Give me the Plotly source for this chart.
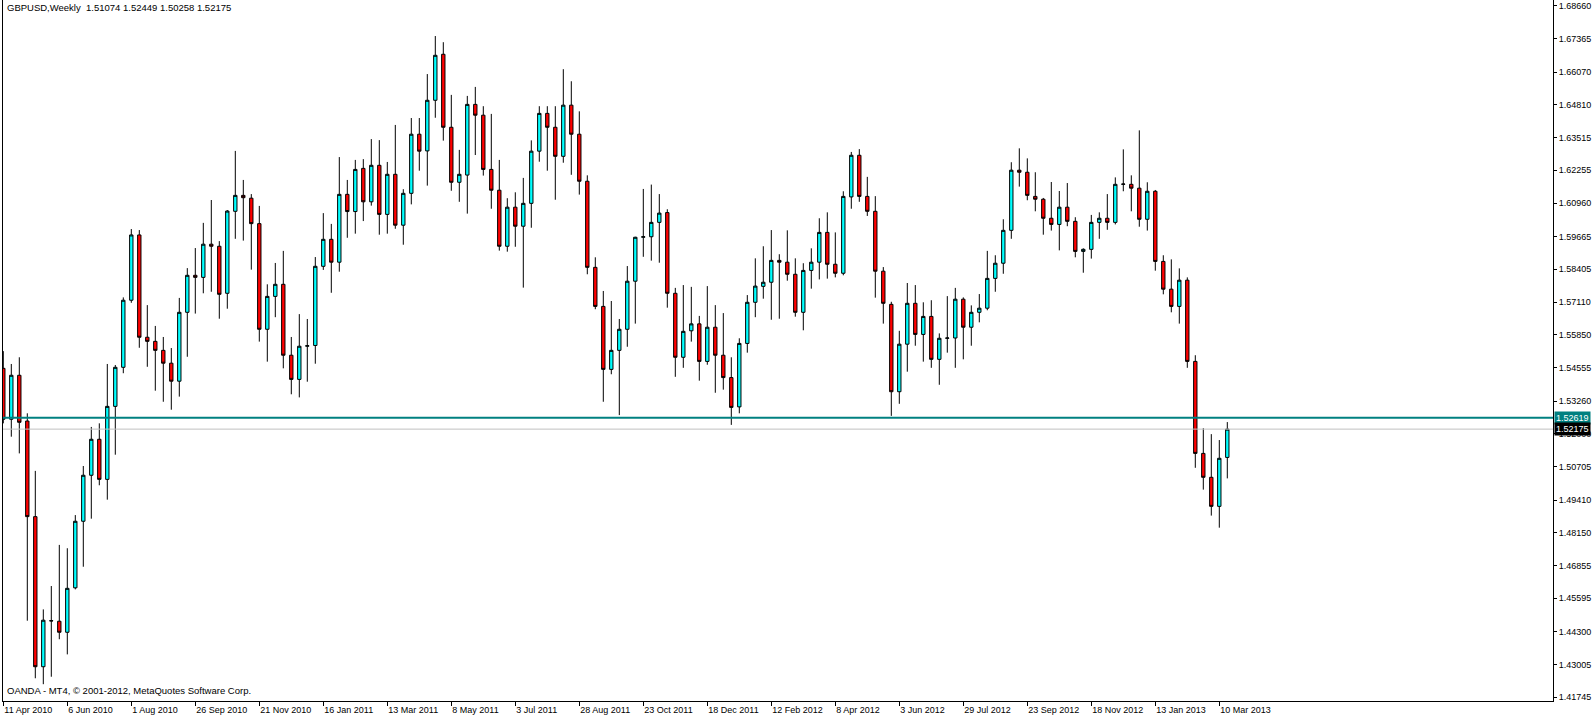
import pandas as pd
import plotly.graph_objects as go

symbol_title = "GBPUSD,Weekly  1.51074 1.52449 1.50258 1.52175"
footer_text = "OANDA - MT4, \u00a9 2001-2012, MetaQuotes Software Corp."
first_week = "2010-04-11"

open_ = [1.5454, 1.5256, 1.5427, 1.5249, 1.4877, 1.4293, 1.4471, 1.4470, 1.4427, 1.4600,
         1.4859, 1.5038, 1.5178, 1.5022, 1.5306, 1.5458, 1.5719, 1.5973, 1.5575, 1.5559,
         1.5524, 1.5474, 1.5404, 1.5672, 1.5816, 1.5808, 1.5937, 1.5929, 1.5746, 1.6065,
         1.6127, 1.6116, 1.6017, 1.5606, 1.5734, 1.5781, 1.5505, 1.5411, 1.5540, 1.5543,
         1.5851, 1.5956, 1.5867, 1.6131, 1.6064, 1.6232, 1.6102, 1.6244, 1.6053, 1.6209,
         1.6011, 1.6135, 1.6365, 1.6300, 1.6497, 1.6676, 1.6392, 1.6178, 1.6206, 1.6481,
         1.6439, 1.6228, 1.6147, 1.5929, 1.6081, 1.6007, 1.6096, 1.6299, 1.6446, 1.6392,
         1.6279, 1.6478, 1.6365, 1.6182, 1.5847, 1.5695, 1.5450, 1.5524, 1.5606, 1.5793,
         1.5964, 1.5966, 1.6022, 1.6060, 1.5746, 1.5497, 1.5600, 1.5627, 1.5481, 1.5614,
         1.5505, 1.5418, 1.5304, 1.5551, 1.5711, 1.5773, 1.5789, 1.5874, 1.5867, 1.5820,
         1.5672, 1.5835, 1.5867, 1.5983, 1.5859, 1.5824, 1.6121, 1.6283, 1.6123, 1.6065,
         1.5832, 1.5703, 1.5363, 1.5548, 1.5707, 1.5586, 1.5656, 1.5489, 1.5571, 1.5572,
         1.5723, 1.5614, 1.5672, 1.5688, 1.5804, 1.5863, 1.5991, 1.6225, 1.6217, 1.6123,
         1.6112, 1.6038, 1.6014, 1.6081, 1.6026, 1.5909, 1.5917, 1.6022, 1.6038, 1.6022,
         1.6170, 1.6170, 1.6155, 1.6034, 1.6143, 1.5870, 1.5762, 1.5695, 1.5797, 1.5481,
         1.5123, 1.5030, 1.4917, 1.51074]
high = [1.5521, 1.5471, 1.5497, 1.5279, 1.5055, 1.4516, 1.4607, 1.4767, 1.4754, 1.4883,
        1.5074, 1.5226, 1.5240, 1.5471, 1.5467, 1.5730, 1.5996, 1.5992, 1.5700, 1.5619,
        1.5576, 1.5533, 1.5728, 1.5844, 1.5922, 1.6020, 1.6109, 1.5949, 1.6070, 1.6300,
        1.6187, 1.6132, 1.6086, 1.5781, 1.5864, 1.5911, 1.5576, 1.5665, 1.5646, 1.5887,
        1.6058, 1.6016, 1.6276, 1.6187, 1.6265, 1.6268, 1.6346, 1.6342, 1.6257, 1.6401,
        1.6151, 1.6428, 1.6428, 1.6599, 1.6747, 1.6723, 1.6518, 1.6304, 1.6514, 1.6549,
        1.6474, 1.6444, 1.6265, 1.6116, 1.6139, 1.6195, 1.6341, 1.6474, 1.6474, 1.6474,
        1.6618, 1.6571, 1.6454, 1.6205, 1.5886, 1.5755, 1.5716, 1.5646, 1.5852, 1.5966,
        1.6152, 1.6169, 1.6132, 1.6073, 1.5767, 1.5778, 1.5771, 1.5658, 1.5774, 1.5700,
        1.5669, 1.5497, 1.5571, 1.5739, 1.5882, 1.5929, 1.5992, 1.5898, 1.5991, 1.5882,
        1.5863, 1.5921, 1.6038, 1.6061, 1.5983, 1.6143, 1.6296, 1.6307, 1.6199, 1.6124,
        1.5848, 1.5713, 1.5600, 1.5786, 1.5778, 1.5711, 1.5719, 1.5590, 1.5735, 1.5767,
        1.5730, 1.5699, 1.5743, 1.5911, 1.5894, 1.6034, 1.6256, 1.6310, 1.6271, 1.6217,
        1.6117, 1.6179, 1.6144, 1.6175, 1.6042, 1.5921, 1.6051, 1.6061, 1.6132, 1.6197,
        1.6306, 1.6205, 1.6380, 1.6178, 1.6148, 1.5894, 1.5878, 1.5843, 1.5808, 1.5505,
        1.5221, 1.5198, 1.5175, 1.52449]
low = [1.5240, 1.5188, 1.5123, 1.4472, 1.4248, 1.4225, 1.4254, 1.4400, 1.4341, 1.4594,
       1.4682, 1.4869, 1.4999, 1.4943, 1.5118, 1.5435, 1.5709, 1.5534, 1.5460, 1.5367,
       1.5324, 1.5293, 1.5344, 1.5499, 1.5667, 1.5746, 1.5752, 1.5647, 1.5686, 1.5958,
       1.5951, 1.5838, 1.5558, 1.5480, 1.5653, 1.5454, 1.5353, 1.5341, 1.5402, 1.5472,
       1.5837, 1.5748, 1.5830, 1.5962, 1.5978, 1.6027, 1.6087, 1.5974, 1.5978, 1.5997,
       1.5935, 1.6092, 1.6223, 1.6165, 1.6429, 1.6340, 1.6145, 1.6102, 1.6056, 1.6284,
       1.6204, 1.6075, 1.5912, 1.5908, 1.5927, 1.5768, 1.6001, 1.6258, 1.6223, 1.6110,
       1.6254, 1.6207, 1.6130, 1.5820, 1.5684, 1.5324, 1.5431, 1.5272, 1.5538, 1.5628,
       1.5888, 1.5873, 1.5865, 1.5690, 1.5421, 1.5456, 1.5558, 1.5406, 1.5468, 1.5359,
       1.5371, 1.5234, 1.5279, 1.5515, 1.5653, 1.5725, 1.5643, 1.5647, 1.5795, 1.5655,
       1.5602, 1.5764, 1.5800, 1.5803, 1.5808, 1.5816, 1.6075, 1.6102, 1.6047, 1.5729,
       1.5628, 1.5269, 1.5316, 1.5441, 1.5542, 1.5480, 1.5456, 1.5390, 1.5515, 1.5456,
       1.5489, 1.5542, 1.5633, 1.5680, 1.5752, 1.5822, 1.5958, 1.6161, 1.6108, 1.6065,
       1.5974, 1.5990, 1.5913, 1.6007, 1.5886, 1.5826, 1.5881, 1.5958, 1.5993, 1.6014,
       1.6143, 1.6065, 1.6005, 1.5990, 1.5834, 1.5742, 1.5672, 1.5628, 1.5456, 1.5067,
       1.4982, 1.4881, 1.4834, 1.50258]
close = [1.5256, 1.5427, 1.5244, 1.4877, 1.4293, 1.4474, 1.4472, 1.4427, 1.4598, 1.4859,
         1.5038, 1.5178, 1.5022, 1.5306, 1.5458, 1.5719, 1.5973, 1.5575, 1.5559, 1.5524,
         1.5474, 1.5404, 1.5672, 1.5816, 1.5808, 1.5937, 1.5929, 1.5742, 1.6066, 1.6127,
         1.6118, 1.6017, 1.5606, 1.5734, 1.5781, 1.5505, 1.5411, 1.5540, 1.5542, 1.5851,
         1.5956, 1.5867, 1.6131, 1.6064, 1.6228, 1.6102, 1.6244, 1.6053, 1.6209, 1.6011,
         1.6135, 1.6365, 1.6299, 1.6497, 1.6672, 1.6392, 1.6178, 1.6209, 1.6481, 1.6439,
         1.6228, 1.6147, 1.5929, 1.6081, 1.6007, 1.6096, 1.6299, 1.6446, 1.6392, 1.6279,
         1.6478, 1.6365, 1.6182, 1.5847, 1.5695, 1.5450, 1.5524, 1.5606, 1.5793, 1.5964,
         1.5966, 1.6022, 1.6058, 1.5746, 1.5497, 1.5598, 1.5627, 1.5481, 1.5614, 1.5505,
         1.5418, 1.5302, 1.5551, 1.5711, 1.5774, 1.5789, 1.5874, 1.5867, 1.5820, 1.5672,
         1.5835, 1.5867, 1.5983, 1.5859, 1.5824, 1.6123, 1.6283, 1.6123, 1.6065, 1.5832,
         1.5707, 1.5363, 1.5548, 1.5707, 1.5586, 1.5656, 1.5489, 1.5571, 1.5572, 1.5723,
         1.5614, 1.5672, 1.5688, 1.5804, 1.5863, 1.5991, 1.6225, 1.6217, 1.6127, 1.6112,
         1.6038, 1.6014, 1.6081, 1.6026, 1.5909, 1.5917, 1.6022, 1.6038, 1.6022, 1.6170,
         1.6171, 1.6155, 1.6034, 1.6143, 1.5870, 1.5762, 1.5695, 1.5797, 1.5481, 1.5123,
         1.5030, 1.4917, 1.5104, 1.52175]

support_level = 1.52619
bid_level = 1.52175

price_ticks = ["1.68660", "1.67365", "1.66070", "1.64810", "1.63515", "1.62255",
               "1.60960", "1.59665", "1.58405", "1.57110", "1.55850", "1.54555",
               "1.53260", "1.52000", "1.50705", "1.49410", "1.48150", "1.46855",
               "1.45595", "1.44300", "1.43005", "1.41745"]
date_labels = ["11 Apr 2010", "6 Jun 2010", "1 Aug 2010", "26 Sep 2010", "21 Nov 2010",
               "16 Jan 2011", "13 Mar 2011", "8 May 2011", "3 Jul 2011", "28 Aug 2011",
               "23 Oct 2011", "18 Dec 2011", "12 Feb 2012", "8 Apr 2012", "3 Jun 2012",
               "29 Jul 2012", "23 Sep 2012", "18 Nov 2012", "13 Jan 2013", "10 Mar 2013"]

weeks = pd.date_range(first_week, periods=len(close), freq="7D")
tick_dates = pd.to_datetime(date_labels, format="%d %b %Y")

W, H = 1594, 718
ML, MR, MT, MB = 3, 41, 0, 17
px_per_week = 8.0
plot_w = W - ML - MR
left_off = 0.3 / px_per_week
x0 = weeks[0] - pd.Timedelta(days=7 * left_off)
x1 = x0 + pd.Timedelta(days=7 * plot_w / px_per_week)
y_range = [1.41596, 1.68872]

FONT = "Liberation Sans, Arial, sans-serif"

fig = go.Figure()
fig.add_trace(go.Candlestick(
    x=weeks, open=open_, high=high, low=low, close=close,
    increasing=dict(fillcolor="#00FFFF", line=dict(color="black", width=1)),
    decreasing=dict(fillcolor="#FF0000", line=dict(color="black", width=1)),
    whiskerwidth=0, showlegend=False, name="GBPUSD",
))

fig.add_shape(type="line", xref="paper", yref="y", x0=0, x1=1,
              y0=bid_level, y1=bid_level, line=dict(color="#C0C0C0", width=1), layer="above")
fig.add_shape(type="line", xref="paper", yref="y", x0=0, x1=1,
              y0=support_level, y1=support_level, line=dict(color="#008080", width=2), layer="above")

fig.add_annotation(x=1, xref="paper", y=support_level, yref="y", xanchor="left", yanchor="middle",
                   text=f"{support_level:.5f}", showarrow=False, xshift=1,
                   bgcolor="#008080", borderpad=1, font=dict(family=FONT, size=9, color="white"))
fig.add_annotation(x=1, xref="paper", y=bid_level, yref="y", xanchor="left", yanchor="middle",
                   text=f"{bid_level:.5f}", showarrow=False, xshift=1,
                   bgcolor="#000000", borderpad=1, font=dict(family=FONT, size=9, color="white"))
fig.add_annotation(x=0, xref="paper", y=1, yref="paper", xanchor="left", yanchor="top",
                   text=symbol_title, showarrow=False, xshift=2, yshift=0,
                   font=dict(family=FONT, size=9.5, color="black"))
fig.add_annotation(x=0, xref="paper", y=0, yref="paper", xanchor="left", yanchor="bottom",
                   text=footer_text, showarrow=False, xshift=2, yshift=3,
                   font=dict(family=FONT, size=9.5, color="black"))

fig.update_layout(
    width=W, height=H,
    margin=dict(l=ML, r=MR, t=MT, b=MB, pad=0),
    paper_bgcolor="white", plot_bgcolor="white",
    boxgap=0.4,
    showlegend=False,
    font=dict(family=FONT, size=9, color="black"),
    xaxis=dict(
        type="date", range=[x0, x1], rangeslider=dict(visible=False),
        showgrid=False, zeroline=False,
        showline=True, linecolor="black", linewidth=1, mirror=True,
        ticks="outside", ticklen=4, tickcolor="black", tickwidth=1,
        tickvals=tick_dates, ticktext=date_labels,
        ticklabelposition="outside right",
        tickfont=dict(family=FONT, size=9, color="black"),
    ),
    yaxis=dict(
        side="right", range=y_range,
        showgrid=False, zeroline=False,
        showline=True, linecolor="black", linewidth=1, mirror=True,
        ticks="outside", ticklen=3, tickcolor="black", tickwidth=1,
        tickvals=[float(t) for t in price_ticks], ticktext=price_ticks,
        tickfont=dict(family=FONT, size=9, color="black"),
    ),
)

fig.write_html(
    "out.html",
    config={"displayModeBar": False},
    post_script="document.body.style.margin='0px';document.body.style.overflow='hidden';",
)
